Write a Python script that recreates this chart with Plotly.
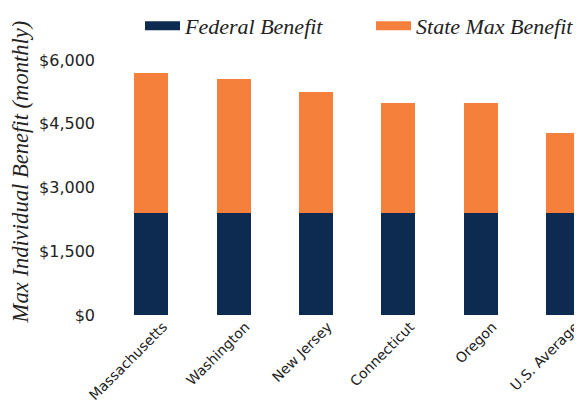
import plotly.graph_objects as go

categories = ["Massachusetts", "Washington", "New Jersey", "Connecticut", "Oregon", "U.S. Average"]
federal_benefit = [2400, 2400, 2400, 2400, 2400, 2400]
state_max_benefit = [3292, 3160, 2852, 2596, 2592, 1880]
y_tick_values = [0, 1500, 3000, 4500, 6000]
y_tick_labels = ["$0", "$1,500", "$3,000", "$4,500", "$6,000"]

NAVY = "#0d2b50"
ORANGE = "#f5803b"
SERIF = "Liberation Serif, DejaVu Serif, serif"
SANS = "DejaVu Sans, Liberation Sans, sans-serif"

fig = go.Figure()
fig.add_trace(go.Bar(x=categories, y=federal_benefit, name="Federal Benefit",
                     marker=dict(color=NAVY, line=dict(width=0)), showlegend=False))
fig.add_trace(go.Bar(x=categories, y=state_max_benefit, name="State Max Benefit",
                     marker=dict(color=ORANGE, line=dict(width=0)), showlegend=False))
# legend entries drawn as wide swatches
fig.add_trace(go.Scatter(x=[None], y=[None], mode="lines", name="Federal Benefit",
                         line=dict(color=NAVY, width=9), legend="legend"))
fig.add_trace(go.Scatter(x=[None], y=[None], mode="lines", name="State Max Benefit",
                         line=dict(color=ORANGE, width=9), legend="legend2"))

legend_font = dict(family=SERIF, size=22, color="#222", style="italic")

fig.update_layout(
    width=574, height=394,
    barmode="stack", bargap=0.587,
    plot_bgcolor="white", paper_bgcolor="white",
    margin=dict(l=102, r=0, t=20, b=87, autoexpand=False),
    legend=dict(orientation="h", x=0.0636, xanchor="left", y=1.007, yanchor="middle",
                font=legend_font, bgcolor="rgba(0,0,0,0)", itemwidth=35),
    legend2=dict(orientation="h", x=0.553, xanchor="left", y=1.007, yanchor="middle",
                 font=legend_font, bgcolor="rgba(0,0,0,0)", itemwidth=35),
    xaxis=dict(range=[-0.5, 5.23], showgrid=False, zeroline=False, showline=False,
               tickangle=-45, ticklabelshift=12,
               tickfont=dict(family=SANS, size=14, color="#222"), automargin=False),
    yaxis=dict(range=[0, 6753], showgrid=False, zeroline=False, showline=False,
               tickvals=y_tick_values, ticktext=y_tick_labels, ticklabelstandoff=14,
               tickfont=dict(family=SANS, size=16, color="#222"), automargin=False,
               title=dict(text="Max Individual Benefit (monthly)", standoff=8,
                          font=dict(family=SERIF, size=22.6, color="#222", style="italic"))),
)

fig.write_html("out.html")
